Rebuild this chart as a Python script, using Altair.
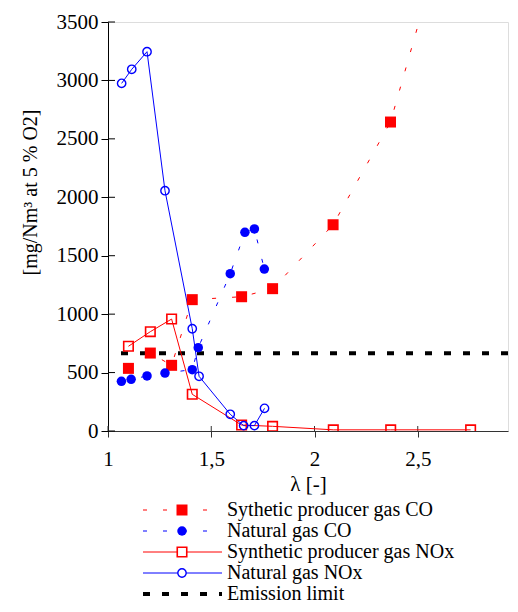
import altair as alt
import pandas as pd

# ---------------- data ----------------
lam_sp_co = [1.099, 1.205, 1.308, 1.408, 1.647, 1.797, 2.090, 2.368, 2.756]
val_sp_co = [536, 667, 562, 1124, 1149, 1218, 1765, 2644, 5050]

lam_ng_co = [1.065, 1.112, 1.189, 1.276, 1.408, 1.437, 1.592, 1.663, 1.709, 1.757]
val_ng_co = [425, 442, 471, 496, 525, 713, 1346, 1700, 1729, 1386]

lam_sp_nox = [1.099, 1.205, 1.308, 1.408, 1.647, 1.797, 2.091, 2.369, 2.756]
val_sp_nox = [725, 850, 958, 314, 51, 40, 10, 10, 10]

lam_ng_nox = [1.066, 1.115, 1.189, 1.276, 1.408, 1.441, 1.592, 1.657, 1.709, 1.758]
val_ng_nox = [2975, 3095, 3246, 2056, 875, 468, 143, 46, 46, 194]

emission_limit = [665]

x_ticks = [1, 1.5, 2, 2.5]
y_ticks = [0, 500, 1000, 1500, 2000, 2500, 3000, 3500]

legend_labels = [
    "Sythetic producer gas CO",
    "Natural gas CO",
    "Synthetic producer gas NOx",
    "Natural gas NOx",
    "Emission limit",
]

# ---------------- styling ----------------
FONT = "'Liberation Serif', 'Times New Roman', serif"
W, H = 400, 409
RED = "#ff0000"
BLUE = "#0000ff"

xs = alt.Scale(domain=[1, 1 + W / 206.5], nice=False, zero=False)
ys = alt.Scale(domain=[0, 3500], nice=False, zero=False)

x_axis = alt.Axis(
    values=x_ticks, format="~g", labelExpr="replace(datum.label, '.', ',')",
    title="λ [-]", grid=False, tickSize=6, labelPadding=11, titlePadding=4,
    labelFlush=False,
    domainColor="#333333", tickColor="#333333", labelColor="black", titleColor="black",
    labelFont=FONT, titleFont=FONT, labelFontSize=21, titleFontSize=21,
    titleFontWeight="normal",
)
y_axis = alt.Axis(
    values=y_ticks, format="d", title="[mg/Nm³ at 5 % O2]", grid=False,
    tickSize=7, labelPadding=3, titlePadding=16, titleY=170, labelFlush=False,
    domainColor="black", tickColor="black", labelColor="black", titleColor="black",
    labelFont=FONT, titleFont=FONT, labelFontSize=21, titleFontSize=20,
    titleFontWeight="normal",
)


def XE():
    return alt.X("lam:Q", scale=xs, axis=x_axis)


def YE():
    return alt.Y("val:Q", scale=ys, axis=y_axis)


def frame(l, v):
    return pd.DataFrame({"lam": l, "val": v})


sp_co = frame(lam_sp_co, val_sp_co)
ng_co = frame(lam_ng_co, val_ng_co)
sp_nox = frame(lam_sp_nox, val_sp_nox)
ng_nox = frame(lam_ng_nox, val_ng_nox)

layers = []

# inner halves of the crossing ticks
layers.append(
    alt.Chart(pd.DataFrame({"val": y_ticks})).mark_rule(color="black", strokeWidth=1)
    .encode(y=YE(), x=alt.value(0), x2=alt.value(7))
)
layers.append(
    alt.Chart(pd.DataFrame({"lam": x_ticks})).mark_rule(color="#333333", strokeWidth=1)
    .encode(x=XE(), y=alt.value(H), y2=alt.value(H - 5))
)

# emission limit
layers.append(
    alt.Chart(pd.DataFrame({"val": emission_limit}))
    .mark_rule(color="black", strokeWidth=4, strokeDash=[7, 12])
    .encode(y=YE())
)

# CO dashed lines
layers.append(
    alt.Chart(sp_co).mark_line(color=RED, strokeWidth=1, strokeDash=[4, 16], clip=True)
    .encode(x=XE(), y=YE())
)
layers.append(
    alt.Chart(ng_co).mark_line(color=BLUE, strokeWidth=1, strokeDash=[4, 16], clip=True)
    .encode(x=XE(), y=YE())
)
# NOx solid lines
layers.append(
    alt.Chart(sp_nox).mark_line(color=RED, strokeWidth=1, clip=True)
    .encode(x=XE(), y=YE())
)
layers.append(
    alt.Chart(ng_nox).mark_line(color=BLUE, strokeWidth=1, clip=True)
    .encode(x=XE(), y=YE())
)
# markers
layers.append(
    alt.Chart(sp_co).mark_point(shape="square", filled=True, color=RED, size=121, opacity=1, clip=True)
    .encode(x=XE(), y=YE())
)
layers.append(
    alt.Chart(ng_co).mark_point(shape="circle", filled=True, color=BLUE, size=90, opacity=1, clip=True)
    .encode(x=XE(), y=YE())
)
layers.append(
    alt.Chart(sp_nox).mark_point(shape="square", filled=False, color=RED, size=90, strokeWidth=1.6, opacity=1, clip=True)
    .encode(x=XE(), y=YE())
)
layers.append(
    alt.Chart(ng_nox).mark_point(shape="circle", filled=False, color=BLUE, size=70, strokeWidth=1.4, opacity=1, clip=True)
    .encode(x=XE(), y=YE())
)

plot = alt.layer(*layers)

# ---------------- legend (own row-index scale below the plot) ----------------
ROW0, STEP = 488, 21.0  # first row centre (below plot top) and row spacing
leg = pd.DataFrame({"label": legend_labels, "row": list(range(len(legend_labels)))})
ls = alt.Scale(domain=[-ROW0 / STEP, -ROW0 / STEP + H / STEP], reverse=True, nice=False, zero=False)
LY = alt.Y("row:Q", scale=ls, axis=None)
LX0, LX1, LXM, LXT = 35, 114, 74, 119


def rows(i):
    return alt.Chart(leg).transform_filter(alt.datum.row == i)


leg_layers = [
    rows(0).mark_rule(color=RED, strokeWidth=1, strokeDash=[4, 16]).encode(y=LY, x=alt.value(LX0), x2=alt.value(LX1)),
    rows(0).mark_point(shape="square", filled=True, color=RED, size=121, opacity=1).encode(y=LY, x=alt.value(LXM)),
    rows(1).mark_rule(color=BLUE, strokeWidth=1, strokeDash=[4, 16]).encode(y=LY, x=alt.value(LX0), x2=alt.value(LX1)),
    rows(1).mark_point(shape="circle", filled=True, color=BLUE, size=90, opacity=1).encode(y=LY, x=alt.value(LXM)),
    rows(2).mark_rule(color=RED, strokeWidth=1).encode(y=LY, x=alt.value(LX0), x2=alt.value(LX1)),
    rows(2).mark_point(shape="square", filled=True, fill="white", stroke=RED, size=90, strokeWidth=1.6, opacity=1).encode(y=LY, x=alt.value(LXM)),
    rows(3).mark_rule(color=BLUE, strokeWidth=1).encode(y=LY, x=alt.value(LX0), x2=alt.value(LX1)),
    rows(3).mark_point(shape="circle", filled=True, fill="white", stroke=BLUE, size=70, strokeWidth=1.4, opacity=1).encode(y=LY, x=alt.value(LXM)),
    rows(4).mark_rule(color="black", strokeWidth=4, strokeDash=[7, 12]).encode(y=LY, x=alt.value(LX0), x2=alt.value(LX1)),
    alt.Chart(leg).mark_text(align="left", baseline="middle", font=FONT, fontSize=20, color="black")
    .encode(y=LY, x=alt.value(LXT), text="label:N"),
]
legend = alt.layer(*leg_layers)

chart = (
    alt.layer(plot, legend)
    .resolve_scale(y="independent")
    .properties(
        width=W, height=H,
        autosize=alt.AutoSizeParams(type="none", contains="content"),
        padding={"left": 100, "top": 14, "right": 2, "bottom": 173},
    )
    .configure_view(stroke=None)
    .configure_axis(labelFont=FONT, titleFont=FONT)
    .configure(background="white", font=FONT)
)

chart.save("out.html", embed_options={"renderer": "svg", "actions": False})
